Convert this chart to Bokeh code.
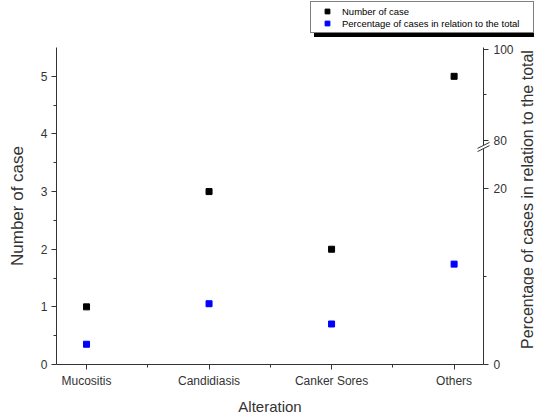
import math
from bokeh.plotting import figure
from bokeh.models import (Range1d, LinearAxis, FixedTicker, Legend, LegendItem,
                          Arrow, ColumnDataSource, Label)
from bokeh.embed import file_html
from bokeh.resources import INLINE

# ---- data ----
categories = ["Mucositis", "Candidiasis", "Canker Sores", "Others"]
number_of_case = [1, 3, 2, 5]
percentage_plotted = [2.3, 6.9, 4.6, 11.4]   # as read on the right (percentage) axis
left_ticks = [0, 1, 2, 3, 4, 5]
right_lower_ticks = [0, 20]
right_upper_ticks = [80, 100]
right_minor_lower = [10]
right_minor_upper = [90]
legend_labels = ["Number of case", "Percentage of cases in relation to the total"]

# broken right-axis mapping: lower segment 0-20 linear, upper segment 80-100 compressed
UPPER_START = 25.45
UPPER_SCALE = 0.5175
BREAK_POS = 24.7


def right_pos(v):
    if v <= 20:
        return v
    return UPPER_START + (v - 80) * UPPER_SCALE


xs = list(range(1, len(categories) + 1))
FONT = "Liberation Sans"
AX = "#333333"

# ---- layout geometry (pixels) ----
W, H = 534, 416
FL, FR, FT, FB = 56, 483, 47, 364          # axes box in canvas pixels
X0, X1 = 0.755, 4.24                       # x data extent of the axes box
Y0, Y1 = 0.0, 5.5                          # left axis extent
P0, P1 = 0.0, 36.0                         # right (pct) axis extent

xs_per_px = (X1 - X0) / (FR - FL)
ys_per_px = (Y1 - Y0) / (FB - FT)
ps_per_px = (P1 - P0) / (FB - FT)

x_range = Range1d(X0 - FL * xs_per_px, X1 + (W - FR) * xs_per_px)
y_range = Range1d(Y0 - (H - FB) * ys_per_px, Y1 + FT * ys_per_px)
pct_range = Range1d(P0 - (H - FB) * ps_per_px, P1 + FT * ps_per_px)

p = figure(width=W, height=H, output_backend="svg", toolbar_location=None,
           x_range=x_range, y_range=y_range,
           min_border_left=0, min_border_right=0, min_border_top=0,
           min_border_bottom=0)
p.extra_y_ranges = {"pct": pct_range}
p.xgrid.visible = False
p.ygrid.visible = False
p.outline_line_color = None
p.background_fill_color = "white"
p.border_fill_color = "white"


def style(ax):
    ax.axis_line_color = AX
    ax.major_tick_line_color = AX
    ax.minor_tick_line_color = AX
    ax.major_tick_out = 5
    ax.major_tick_in = 0
    ax.minor_tick_out = 3
    ax.minor_tick_in = 0
    ax.major_label_text_font = FONT
    ax.major_label_text_font_size = "12px"
    ax.major_label_text_color = AX
    ax.axis_label_text_font = FONT
    ax.axis_label_text_font_size = "15px"
    ax.axis_label_text_font_style = "normal"
    ax.axis_label_text_color = AX


# bottom axis
xa = p.xaxis[0]
xa.ticker = FixedTicker(ticks=xs, minor_ticks=[1.5, 2.5, 3.5])
xa.major_label_overrides = {x: c for x, c in zip(xs, categories)}
xa.axis_label = "Alteration"
xa.fixed_location = Y0
xa.bounds = (X0, X1)
style(xa)
xa.major_label_standoff = 4
xa.axis_label_standoff = 7

# left axis
ya = p.yaxis[0]
ya.ticker = FixedTicker(ticks=left_ticks, minor_ticks=[v + 0.5 for v in left_ticks[:-1]])
ya.axis_label = "Number of case"
ya.fixed_location = X0
ya.bounds = (Y0, Y1)
style(ya)
ya.axis_label_text_font_size = "17px"
ya.major_label_standoff = 4
ya.axis_label_standoff = 11

# right broken axis
rt = [right_pos(v) for v in right_lower_ticks + right_upper_ticks]
rmin = [right_pos(v) for v in right_minor_lower + right_minor_upper]
ra = LinearAxis(y_range_name="pct")
ra.ticker = FixedTicker(ticks=rt, minor_ticks=rmin)
ra.major_label_overrides = {right_pos(v): str(v) for v in right_lower_ticks + right_upper_ticks}
ra.fixed_location = X1
ra.bounds = (P0, P1)
style(ra)
p.add_layout(ra, "right")

# right axis title (reads bottom to top, runs to the canvas edge as in the original)
p.add_layout(Label(x=527, y=H - 199, x_units="screen", y_units="screen",
                   text="Percentage of cases in relation to the total",
                   angle=math.pi / 2, text_align="center", text_baseline="middle",
                   text_font=FONT, text_font_size="16px", text_color=AX))

src = ColumnDataSource(dict(x=xs, n=number_of_case, pct=percentage_plotted))
r1 = p.scatter("x", "n", source=src, marker="square", size=6, color="black")
r2 = p.scatter("x", "pct", source=src, marker="square", size=6, color="#0000FF",
               y_range_name="pct")

# break marks on the right axis
p.add_layout(Arrow(end=None, x_start=X1, x_end=X1, y_start=BREAK_POS - 2 * ps_per_px,
                   y_end=BREAK_POS + 2 * ps_per_px, y_range_name="pct",
                   line_color="white", line_width=3))
for off in (-1.6, 1.6):
    p.add_layout(Arrow(end=None, x_start=X1 - 6 * xs_per_px, x_end=X1 + 6 * xs_per_px,
                       y_start=BREAK_POS + (off - 3) * ps_per_px,
                       y_end=BREAK_POS + (off + 3) * ps_per_px,
                       y_range_name="pct", line_color=AX, line_width=1))

LEG_X, LEG_BOTTOM = 310, 33


def make_legend(shadow):
    off = 4 if shadow else 0
    if shadow:
        its = [LegendItem(label=" ", renderers=[r1]), LegendItem(label=" ", renderers=[r1])]
    else:
        its = [LegendItem(label=legend_labels[0], renderers=[r1]),
               LegendItem(label=legend_labels[1], renderers=[r2])]
    return Legend(items=its, location=(LEG_X + off, H - LEG_BOTTOM - off),
                  label_text_font=FONT, label_text_font_size="9.5px",
                  label_text_color="black", glyph_width=26, glyph_height=12,
                  label_height=10, label_width=188, spacing=0, padding=3,
                  label_standoff=2, border_line_color="black", border_line_width=1,
                  background_fill_color="black" if shadow else "white",
                  background_fill_alpha=1.0, margin=0)


p.add_layout(make_legend(True))
p.add_layout(make_legend(False))

open("out.html", "w").write(file_html(p, INLINE))
